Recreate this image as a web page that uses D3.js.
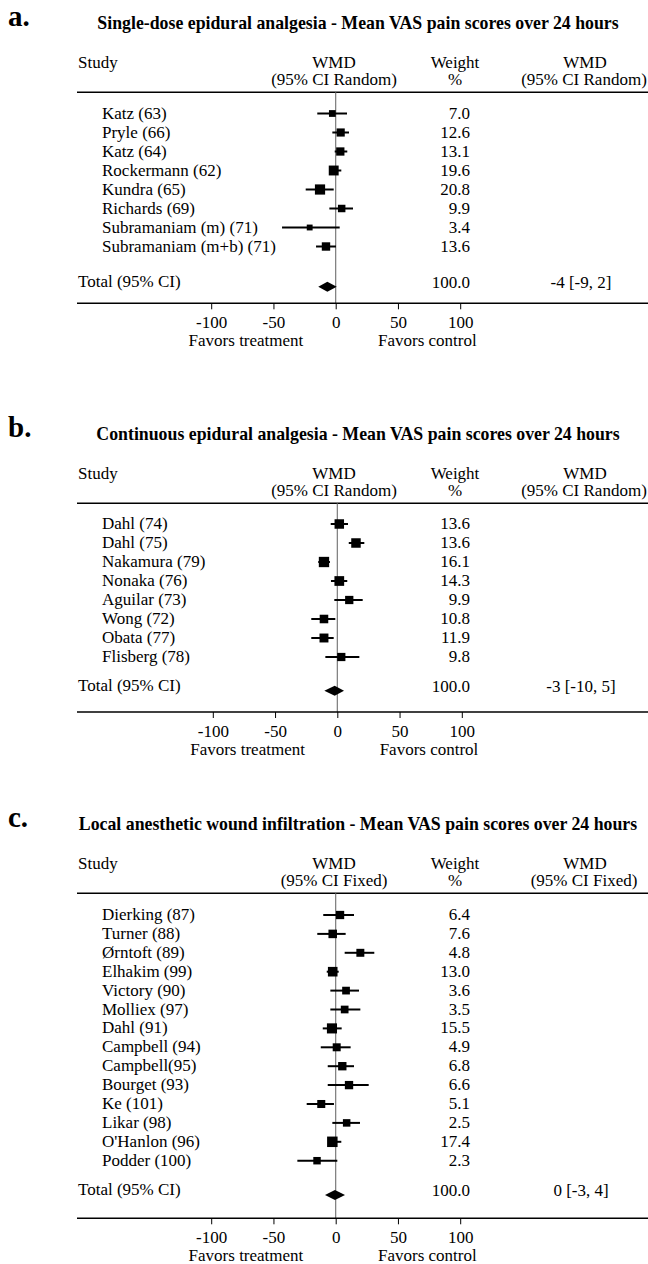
<!DOCTYPE html>
<html>
<head>
<meta charset="utf-8">
<script src="https://cdnjs.cloudflare.com/ajax/libs/d3/7.8.5/d3.min.js"></script>
<style>
  body { margin: 0; background: #fff; }
  svg text { font-family: "Liberation Serif", "Times New Roman", serif; font-size: 17px; fill: #000; }
</style>
</head>
<body>
<svg id="chart" width="648" height="1264"></svg>
<script>
// ---- data ----
const xTicks = [-100, -50, 0, 50, 100];

const titleA = "Single-dose epidural analgesia - Mean VAS pain scores over 24 hours";
const studiesA = ["Katz (63)", "Pryle (66)", "Katz (64)", "Rockermann (62)", "Kundra (65)",
  "Richards (69)", "Subramaniam (m) (71)", "Subramaniam (m+b) (71)"];
const meanA  = [-2.7, 4.0, 3.7, -1.6, -12.6, 4.8, -20.9, -7.8];
const lowerA = [-14.8, -2.7, -0.8, -5.4, -24.1, -5.1, -43.1, -15.8];
const upperA = [9.1, 10.7, 9.3, 4.5, -1.6, 13.9, 3.2, 0.2];
const weightA = [7.0, 12.6, 13.1, 19.6, 20.8, 9.9, 3.4, 13.6];
const pooledA = [-14, -6.7, 0.8];           // diamond: lower, centre, upper
const pooledTextA = "-4 [-9, 2]";

const titleB = "Continuous epidural analgesia - Mean VAS pain scores over 24 hours";
const studiesB = ["Dahl (74)", "Dahl (75)", "Nakamura (79)", "Nonaka (76)", "Aguilar (73)",
  "Wong (72)", "Obata (77)", "Flisberg (78)"];
const meanB  = [1.6, 15.0, -10.7, 1.6, 9.6, -10.7, -10.7, 3.2];
const lowerB = [-5.3, 9.2, -15.3, -5.1, -2.4, -20.9, -20.9, -9.6];
const upperB = [8.6, 21.7, -5.9, 8.0, 20.4, -1.6, -2.9, 17.7];
const weightB = [13.6, 13.6, 16.1, 14.3, 9.9, 10.8, 11.9, 9.8];
const pooledB = [-10.4, -2.1, 5.4];
const pooledTextB = "-3 [-10, 5]";

const titleC = "Local anesthetic wound infiltration - Mean VAS pain scores over 24 hours";
const studiesC = ["Dierking (87)", "Turner (88)", "Ørntoft (89)", "Elhakim (99)", "Victory (90)",
  "Molliex (97)", "Dahl (91)", "Campbell (94)", "Campbell(95)", "Bourget (93)", "Ke (101)",
  "Likar (98)", "O'Hanlon (96)", "Podder (100)"];
const meanC  = [3.5, -2.4, 19.8, -2.4, 8.3, 7.2, -3.0, 0.8, 5.3, 10.7, -11.6, 8.8, -2.7, -15.0];
const lowerC = [-10, -14.8, 7.2, -7.2, -4.3, -4.3, -10.4, -12, -6.4, -6.4, -23.3, -2.7, -6.2, -30.8];
const upperC = [14.7, 8.0, 31, 2.4, 18.7, 19.8, 4.8, 12, 14.7, 26.5, -1.4, 19.5, 4.5, 1.3];
const weightC = [6.4, 7.6, 4.8, 13.0, 3.6, 3.5, 15.5, 4.9, 6.8, 6.6, 5.1, 2.5, 17.4, 2.3];
const pooledC = [-8.6, -0.6, 7.5];
const pooledTextC = "0 [-3, 4]";

// ---- layout ----
const panels = [
  { tag: "a.", title: titleA, studies: studiesA, mean: meanA, lower: lowerA, upper: upperA,
    weight: weightA, pooled: pooledA, pooledText: pooledTextA, method: "(95% CI Random)",
    rule: 92.3, first: 113.5, step: 19, total: 286.7, bottom: 303.3, zero: 335.7, size: [5, 0.25] },
  { tag: "b.", title: titleB, studies: studiesB, mean: meanB, lower: lowerB, upper: upperB,
    weight: weightB, pooled: pooledB, pooledText: pooledTextB, method: "(95% CI Random)",
    rule: 503.3, first: 524, step: 19, total: 690.7, bottom: 712, zero: 337.3, size: [5, 0.33] },
  { tag: "c.", title: titleC, studies: studiesC, mean: meanC, lower: lowerC, upper: upperC,
    weight: weightC, pooled: pooledC, pooledText: pooledTextC, method: "(95% CI Fixed)",
    rule: 893.3, first: 915, step: 18.9, total: 1195, bottom: 1218.3, zero: 335.7, size: [7, 0.2] }
];

const left = 77, right = 648;
const pxPerUnit = 1.245;

const svg = d3.select("#chart");

function drawPanel(p) {
  const g = svg.append("g");
  const x = d3.scaleLinear()
    .domain([-100, 100])
    .range([p.zero - 100 * pxPerUnit, p.zero + 100 * pxPerUnit]);
  const y = d3.scaleLinear().domain([0, 1]).range([p.first, p.first + p.step]);
  const side = d => p.size[0] + p.size[1] * d;

  // heading
  g.append("text").attr("x", 8).attr("y", p.rule - 66)
    .style("font-size", "29px").style("font-weight", "bold").text(p.tag);
  g.append("text").attr("x", 358).attr("y", p.rule - 63).attr("text-anchor", "middle")
    .style("font-size", "17.8px").style("font-weight", "bold").text(p.title);

  // column headers
  const h1 = p.rule - 24, h2 = p.rule - 7;
  g.append("text").attr("x", 78).attr("y", h1).text("Study");
  g.append("text").attr("x", 334).attr("y", h1).attr("text-anchor", "middle").text("WMD");
  g.append("text").attr("x", 334).attr("y", h2).attr("text-anchor", "middle").text(p.method);
  g.append("text").attr("x", 455).attr("y", h1).attr("text-anchor", "middle").text("Weight");
  g.append("text").attr("x", 455).attr("y", h2).attr("text-anchor", "middle").text("%");
  g.append("text").attr("x", 585).attr("y", h1).attr("text-anchor", "middle").text("WMD");
  g.append("text").attr("x", 584).attr("y", h2).attr("text-anchor", "middle").text(p.method);

  g.append("line").attr("x1", left).attr("x2", right).attr("y1", p.rule).attr("y2", p.rule)
    .attr("stroke", "#000").attr("stroke-width", 1.6);

  // line of no effect
  g.append("line").attr("x1", x(0)).attr("x2", x(0)).attr("y1", p.rule).attr("y2", p.bottom)
    .attr("stroke", "#6e6e6e").attr("stroke-width", 1.1);

  const rows = g.selectAll(".row").data(p.studies).join("g").attr("class", "row");

  rows.append("text").attr("x", 102).attr("y", (d, i) => y(i) + 5).text(d => d);
  rows.append("text").attr("x", 470).attr("y", (d, i) => y(i) + 5).attr("text-anchor", "end")
    .text((d, i) => d3.format(".1f")(p.weight[i]));

  rows.append("line")
    .attr("x1", (d, i) => x(p.lower[i])).attr("x2", (d, i) => x(p.upper[i]))
    .attr("y1", (d, i) => y(i)).attr("y2", (d, i) => y(i))
    .attr("stroke", "#000").attr("stroke-width", 2);

  rows.append("rect")
    .attr("x", (d, i) => x(p.mean[i]) - side(p.weight[i]) / 2)
    .attr("y", (d, i) => y(i) - side(p.weight[i]) / 2)
    .attr("width", (d, i) => side(p.weight[i]))
    .attr("height", (d, i) => side(p.weight[i]))
    .attr("fill", "#000");

  // pooled estimate
  const [lo, mid, hi] = p.pooled;
  g.append("text").attr("x", 78).attr("y", p.total).text("Total (95% CI)");
  g.append("text").attr("x", 470).attr("y", p.total + 1).attr("text-anchor", "end").text("100.0");
  g.append("text").attr("x", 581).attr("y", p.total + 1).attr("text-anchor", "middle").text(p.pooledText);
  g.append("path")
    .attr("d", `M${x(lo)},${p.total} L${x(mid)},${p.total - 5} L${x(hi)},${p.total} L${x(mid)},${p.total + 5} Z`)
    .attr("fill", "#000");

  // bottom rule and axis
  g.append("line").attr("x1", left).attr("x2", right).attr("y1", p.bottom).attr("y2", p.bottom)
    .attr("stroke", "#000").attr("stroke-width", 1.6);

  const axis = g.append("g").attr("transform", `translate(0,${p.bottom})`)
    .call(d3.axisBottom(x).tickValues(xTicks).tickSize(6).tickFormat(d => String(d)));
  axis.select(".domain").remove();
  axis.selectAll(".tick line").attr("stroke", "#000");
  axis.selectAll(".tick text").attr("y", 25).attr("dy", null);
  axis.attr("font-family", null).attr("font-size", null);

  g.append("text").attr("x", x(-26)).attr("y", p.bottom + 43).attr("text-anchor", "end").text("Favors treatment");
  g.append("text").attr("x", x(34)).attr("y", p.bottom + 43).text("Favors control");
}

panels.forEach(drawPanel);
</script>
</body>
</html>
